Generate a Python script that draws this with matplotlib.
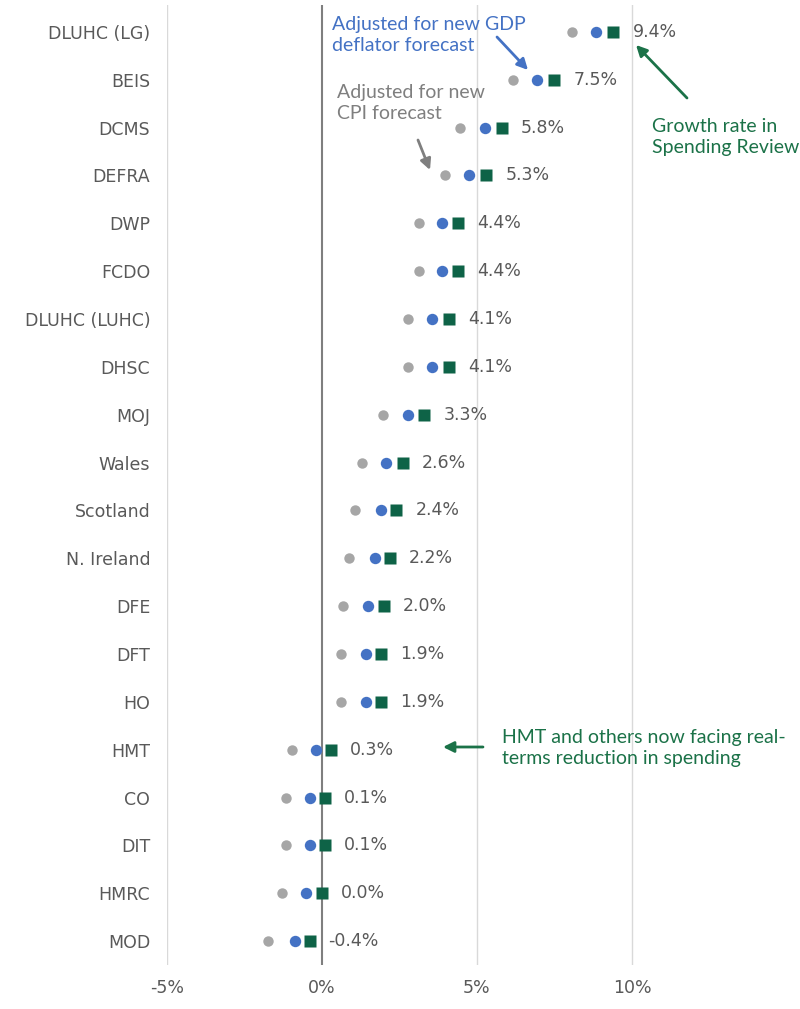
import matplotlib
matplotlib.use("Agg")
import matplotlib.pyplot as plt

# Departmental spending growth rates (% per year, real terms)
departments = ["DLUHC (LG)", "BEIS", "DCMS", "DEFRA", "DWP", "FCDO", "DLUHC (LUHC)",
               "DHSC", "MOJ", "Wales", "Scotland", "N. Ireland", "DFE", "DFT", "HO",
               "HMT", "CO", "DIT", "HMRC", "MOD"]
spending_review = [9.4, 7.5, 5.8, 5.3, 4.4, 4.4, 4.1, 4.1, 3.3, 2.6, 2.4, 2.2, 2.0, 1.9, 1.9,
                   0.3, 0.1, 0.1, 0.0, -0.4]
gdp_deflator_adj = [8.85, 6.95, 5.25, 4.75, 3.87, 3.87, 3.55, 3.55, 2.77, 2.06, 1.9, 1.71,
                    1.48, 1.42, 1.42, -0.19, -0.39, -0.39, -0.52, -0.87]
cpi_adj = [8.06, 6.16, 4.45, 3.97, 3.13, 3.13, 2.77, 2.77, 1.97, 1.29, 1.06, 0.87, 0.68,
           0.61, 0.61, -0.97, -1.16, -1.16, -1.29, -1.74]
x_ticks = [-5, 0, 5, 10]
x_tick_labels = ["-5%", "0%", "5%", "10%"]

GREY_DOT = "#A6A6A6"
BLUE = "#4472C4"
GREEN = "#0E6347"
GREEN_TEXT = "#1B7248"
LABEL_GREY = "#595959"

W, H = 800, 1009
fig = plt.figure(figsize=(W / 100, H / 100), dpi=100)
ax = fig.add_axes([167 / W, 44 / H, (W - 167) / W, (1004 - 44) / H])

y = list(range(len(departments)))
ax.set_xlim(-5, 15.42)
ax.set_ylim(19.5, -0.56)

for xv in x_ticks:
    if xv == 0:
        ax.axvline(xv, color="#7F7F7F", lw=1.5, zorder=1)
    else:
        ax.axvline(xv, color="#D9D9D9", lw=1.0, zorder=1)

ax.plot(cpi_adj, y, "o", ms=7.5, color=GREY_DOT, mec="none", ls="none", zorder=3)
ax.plot(gdp_deflator_adj, y, "o", ms=8.2, color=BLUE, mec="none", ls="none", zorder=3)
ax.plot(spending_review, y, "s", ms=8.2, color=GREEN, mec="none", ls="none", zorder=4)

for xv, yv in zip(spending_review, y):
    ax.annotate(f"{xv:.1f}%", (xv, yv), xytext=(19, 0), textcoords="offset pixels",
                ha="left", va="center", fontsize=12.5, color=LABEL_GREY,
                family="DejaVu Sans")

for s in ax.spines.values():
    s.set_visible(False)
ax.set_yticks(y)
ax.set_yticklabels(departments, fontsize=12.5, color=LABEL_GREY)
ax.set_xticks(x_ticks)
ax.set_xticklabels(x_tick_labels, fontsize=12.5, color=LABEL_GREY)
ax.tick_params(axis="y", length=0, pad=12)
ax.tick_params(axis="x", length=0, pad=10)

# Annotations
def px(xp, yp):
    return (xp / W, 1 - yp / H)

ann_font = "Lato"
ann_size = 14
fig.text(*px(332, 35), "Adjusted for new GDP\ndeflator forecast", color=BLUE,
         fontsize=ann_size, family=ann_font, ha="left", va="center", linespacing=1.3)
fig.text(*px(337, 103), "Adjusted for new\nCPI forecast", color="#7F7F7F",
         fontsize=ann_size, family=ann_font, ha="left", va="center", linespacing=1.3)
fig.text(*px(652, 137), "Growth rate in\nSpending Review", color=GREEN_TEXT,
         fontsize=ann_size, family=ann_font, ha="left", va="center", linespacing=1.3)
fig.text(*px(502, 748), "HMT and others now facing real-\nterms reduction in spending",
         color=GREEN_TEXT, fontsize=ann_size, family=ann_font, ha="left", va="center",
         linespacing=1.3)

def arrow(x0, y0, x1, y1, color):
    fig.add_artist(matplotlib.patches.FancyArrowPatch(
        px(x0, y0), px(x1, y1), transform=fig.transFigure, arrowstyle="-|>",
        mutation_scale=16, lw=2, color=color, shrinkA=0, shrinkB=0))

arrow(497, 37, 528, 70, BLUE)
arrow(418, 140, 430, 170, "#7F7F7F")
arrow(687, 98, 636, 45, GREEN_TEXT)
arrow(483, 747, 443, 747, GREEN_TEXT)

fig.savefig("out.png", dpi=100)
